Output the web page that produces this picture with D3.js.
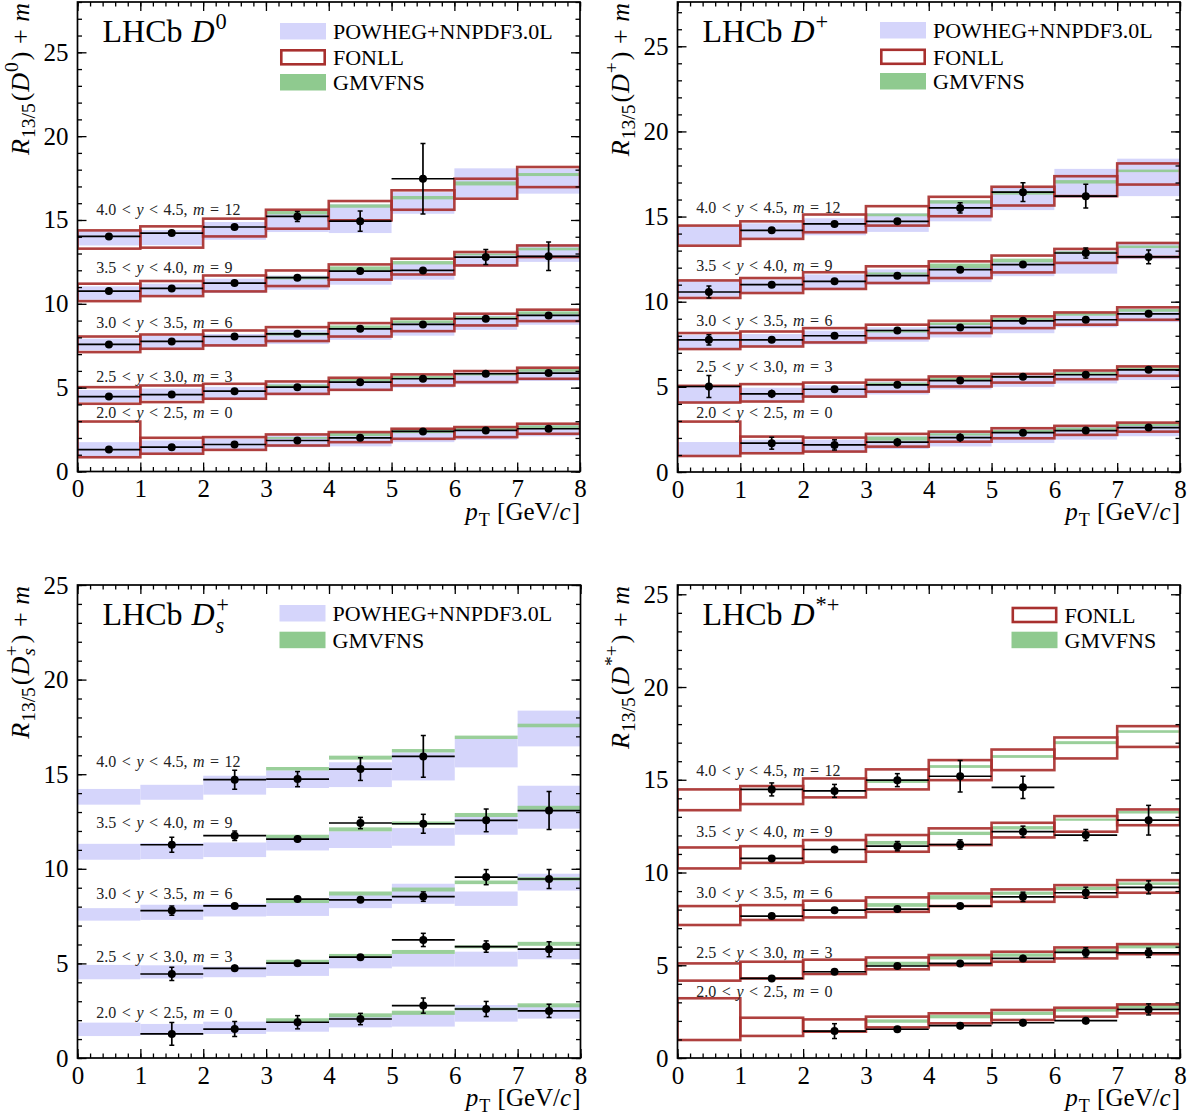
<!DOCTYPE html>
<html><head><meta charset="utf-8">
<script src="https://cdn.jsdelivr.net/npm/d3@7"></script>
<style>body{margin:0;background:#fff}svg{display:block}</style>
</head><body>
<svg id="c" width="1199" height="1117"></svg>
<script>
// ---------------- DATA (values are R_{13/5}; the offset m is added when drawing) ----------------
const ptEdges = [0,1,2,3,4,5,6,7,8];
const offsets = [0,3,6,9,12];
const rapLo = ["2.0","2.5","3.0","3.5","4.0"];
const rapHi = ["2.5","3.0","3.5","4.0","4.5"];
const xTicks = [0,1,2,3,4,5,6,7,8];
const yTicks = [0,5,10,15,20,25];

// D0
const D0_val = [
 [1.31,1.45,1.61,1.85,2.01,2.39,2.45,2.55],
 [1.47,1.59,1.79,2.03,2.33,2.53,2.83,2.87],
 [1.58,1.76,2.05,2.21,2.51,2.77,3.11,3.31],
 [1.76,1.92,2.24,2.56,2.95,2.99,3.79,3.83],
 [2.02,2.22,2.58,3.21,2.93,5.46,null,null]];
const D0_err = [
 [0.1,0.1,0.1,0.1,0.12,0.12,0.15,0.15],
 [0.08,0.08,0.1,0.1,0.12,0.12,0.12,0.15],
 [0.08,0.08,0.1,0.1,0.12,0.12,0.2,0.2],
 [0.1,0.1,0.1,0.12,0.12,0.15,0.45,0.85],
 [0.1,0.1,0.12,0.3,0.6,2.1,null,null]];
const D0_powLo = [
 [0.89,1.05,1.25,1.45,1.5,1.75,1.9,2.1],
 [1.13,1.25,1.35,1.55,1.8,2.0,2.2,2.4],
 [1.22,1.35,1.45,1.6,1.85,2.1,2.45,2.75],
 [1.24,1.5,1.65,1.84,2.14,2.44,3.2,3.5],
 [1.48,1.5,1.82,2.28,2.22,3.37,4.35,4.57]];
const D0_powHi = [
 [1.75,1.85,1.95,2.15,2.3,2.5,2.6,2.8],
 [1.86,1.95,2.05,2.25,2.5,2.7,2.9,3.1],
 [1.92,2.1,2.2,2.45,2.65,2.95,3.3,3.5],
 [2.04,2.2,2.5,2.69,3.1,3.4,4.0,4.55],
 [2.34,2.4,2.88,3.37,3.93,4.66,6.08,6.06]];
const D0_fonLo = [
 [0.85,1.06,1.29,1.55,1.75,1.95,2.05,2.25],
 [1.04,1.14,1.34,1.63,1.87,2.13,2.33,2.53],
 [1.12,1.32,1.52,1.78,2.05,2.37,2.71,2.97],
 [1.16,1.46,1.74,2.06,2.44,2.75,3.29,3.79],
 [1.29,1.35,2.02,2.48,2.98,3.61,4.27,4.96]];
const D0_fonHi = [
 [2.98,2.01,2.05,2.21,2.35,2.55,2.65,2.85],
 [2.03,2.13,2.23,2.37,2.59,2.79,2.99,3.19],
 [2.05,2.17,2.41,2.61,2.85,3.11,3.41,3.65],
 [2.2,2.36,2.69,2.99,3.35,3.69,4.09,4.48],
 [2.38,2.62,3.08,3.61,4.13,4.77,5.46,6.16]];
const D0_gmLo = [
 [null,null,null,1.95,2.11,2.29,2.45,2.59],
 [null,null,null,2.03,2.37,2.53,2.73,2.95],
 [null,null,null,2.11,2.51,2.85,3.1,3.37],
 [null,null,null,2.46,2.95,3.35,3.89,4.19],
 [null,null,null,3.33,3.73,4.23,5.06,5.62]];
const D0_gmHi = [
 [null,null,null,2.05,2.29,2.49,2.59,2.75],
 [null,null,null,2.19,2.53,2.69,2.87,3.11],
 [null,null,null,2.29,2.71,3.01,3.25,3.55],
 [null,null,null,2.63,3.23,3.55,3.99,4.35],
 [null,null,null,3.53,3.93,4.43,5.3,5.8]];

// D+
const DP_val = [
 [null,1.69,1.59,1.75,2.02,2.31,2.43,2.61],
 [2.02,1.59,1.86,2.12,2.37,2.59,2.71,3.0],
 [1.76,1.76,2.0,2.31,2.49,2.88,2.94,3.29],
 [1.57,2.0,2.2,2.53,2.88,3.18,3.86,3.63],
 [null,2.19,2.57,2.72,3.51,4.43,4.2,null]];
const DP_err = [
 [null,0.35,0.3,0.25,0.25,0.15,0.15,0.15],
 [0.65,0.25,0.12,0.12,0.12,0.12,0.15,0.15],
 [0.3,0.12,0.12,0.12,0.15,0.12,0.15,0.2],
 [0.35,0.12,0.12,0.12,0.15,0.2,0.3,0.4],
 [null,0.15,0.15,0.15,0.3,0.55,0.7,null]];
const DP_powLo = [
 [0.96,1.1,1.15,1.35,1.5,1.7,1.9,2.1],
 [1.1,1.2,1.35,1.55,1.85,2.0,2.2,2.4],
 [1.25,1.4,1.5,1.65,1.9,2.15,2.5,2.8],
 [1.3,1.55,1.75,2.0,2.15,2.5,2.65,3.5],
 [1.35,1.75,1.9,2.1,2.72,3.38,4.1,4.2]];
const DP_powHi = [
 [1.76,1.9,1.9,2.1,2.3,2.5,2.65,2.85],
 [2.0,1.95,2.1,2.3,2.5,2.7,2.9,3.1],
 [2.05,2.1,2.3,2.5,2.7,3.0,3.3,3.6],
 [2.2,2.3,2.6,2.9,3.1,3.4,4.0,4.5],
 [2.41,2.6,2.9,3.2,3.96,4.7,5.8,6.4]];
const DP_fonLo = [
 [0.94,1.1,1.2,1.49,1.78,1.98,2.18,2.37],
 [1.08,1.14,1.43,1.72,2.02,2.25,2.45,2.65],
 [1.22,1.37,1.61,1.86,2.16,2.45,2.65,2.94],
 [1.22,1.51,1.75,2.1,2.39,2.72,3.28,3.63],
 [1.29,1.69,2.08,2.47,3.02,3.65,4.2,4.88]];
const DP_fonHi = [
 [2.96,2.08,2.02,2.24,2.37,2.57,2.71,2.9],
 [2.06,2.16,2.25,2.41,2.61,2.76,2.96,3.2],
 [2.16,2.25,2.45,2.65,2.88,3.14,3.37,3.67],
 [2.25,2.39,2.73,3.08,3.37,3.71,4.1,4.45],
 [2.47,2.72,3.12,3.61,4.16,4.75,5.37,6.12]];
const DP_gmLo = [
 [null,null,null,1.84,2.14,2.31,2.47,2.7],
 [null,null,null,2.1,2.4,2.52,2.72,3.04],
 [null,null,null,2.19,2.63,2.9,3.18,3.41],
 [null,null,null,2.6,2.98,3.31,3.82,4.15],
 [null,null,null,3.02,3.76,4.29,4.94,5.61]];
const DP_gmHi = [
 [null,null,null,2.08,2.27,2.47,2.61,2.86],
 [null,null,null,2.25,2.55,2.65,2.86,3.14],
 [null,null,null,2.35,2.78,3.05,3.33,3.57],
 [null,null,null,2.72,3.24,3.53,3.96,4.3],
 [null,null,null,3.18,3.96,4.49,5.14,5.76]];

// Ds+
const DS_val = [
 [null,1.27,1.53,1.89,2.06,2.77,2.59,2.49],
 [null,1.44,1.74,2.01,2.33,3.24,2.89,2.75],
 [null,1.79,2.04,2.4,2.36,2.53,3.56,3.46],
 [null,2.27,2.75,2.57,3.42,3.38,3.56,4.08],
 [null,null,2.71,2.74,3.27,3.94,null,null]];
const DS_err = [
 [null,0.6,0.4,0.35,0.3,0.4,0.4,0.35],
 [null,0.35,0.2,0.15,0.15,0.35,0.3,0.4],
 [null,0.25,0.12,0.12,0.15,0.25,0.4,0.5],
 [null,0.4,0.25,0.2,0.3,0.5,0.6,1.0],
 [null,null,0.5,0.4,0.6,1.1,null,null]];
const DS_powLo = [
 [1.16,1.22,1.27,1.39,1.62,1.66,1.92,2.08],
 [1.16,1.2,1.27,1.34,1.74,1.83,1.83,2.22],
 [1.26,1.3,1.48,1.51,1.92,2.15,2.04,2.85],
 [1.48,1.51,1.62,1.97,2.1,2.22,2.8,3.12],
 [1.39,1.65,1.92,2.27,2.32,2.67,3.36,4.47]];
const DS_powHi = [
 [1.87,1.8,1.92,1.97,2.19,2.4,2.8,2.8],
 [1.92,1.9,1.83,2.01,2.36,2.5,2.62,2.75],
 [1.92,2.1,2.15,2.32,2.62,3.21,2.8,3.74],
 [2.32,2.36,2.39,2.71,2.98,3.15,3.77,5.39],
 [2.22,2.44,2.92,3.2,3.63,4.15,4.86,6.36]];
const DS_gmLo = [
 [null,null,null,1.89,2.15,2.28,2.52,2.68],
 [null,null,null,2.01,2.33,2.5,2.8,2.93],
 [null,null,null,2.19,2.59,2.8,3.19,3.38],
 [null,null,null,2.6,2.98,3.33,3.74,4.12],
 [null,null,null,3.2,3.77,4.15,4.86,5.48]];
const DS_gmHi = [
 [null,null,null,2.1,2.36,2.5,2.66,2.89],
 [null,null,null,2.19,2.5,2.71,2.95,3.14],
 [null,null,null,2.4,2.8,3.01,3.38,3.56],
 [null,null,null,2.8,3.19,3.5,3.95,4.33],
 [null,null,null,3.38,3.98,4.33,5.04,5.67]];

// D*+
const DST_val = [
 [null,null,1.45,1.55,1.74,1.9,2.01,2.62],
 [null,1.29,1.65,1.96,2.1,2.37,2.69,2.67],
 [null,1.65,1.97,2.03,2.19,2.69,2.91,3.2],
 [null,1.76,2.24,2.42,2.51,3.2,3.02,3.82],
 [null,2.48,2.4,2.98,3.19,2.59,null,null]];
const DST_err = [
 [null,null,0.4,0.15,0.2,0.2,0.2,0.3],
 [null,0.1,0.15,0.15,0.15,0.2,0.25,0.25],
 [null,0.12,0.12,0.12,0.15,0.25,0.3,0.35],
 [null,0.15,0.2,0.25,0.25,0.3,0.3,0.8],
 [null,0.35,0.35,0.35,0.85,0.6,null,null]];
const DST_fonLo = [
 [0.97,1.19,1.42,1.65,1.87,2.05,2.23,2.41],
 [1.17,1.29,1.53,1.78,2.01,2.19,2.37,2.6],
 [1.17,1.44,1.58,1.88,2.19,2.42,2.69,2.91],
 [1.22,1.52,1.58,2.12,2.48,2.89,3.2,3.55],
 [1.36,1.69,2.05,2.48,2.98,3.52,4.15,4.77]];
const DST_fonHi = [
 [3.22,2.17,2.08,2.23,2.41,2.59,2.71,2.89],
 [2.1,2.19,2.3,2.42,2.55,2.73,2.96,3.14],
 [2.19,2.24,2.48,2.66,2.87,3.09,3.32,3.59],
 [2.35,2.42,2.75,3.02,3.38,3.68,4.04,4.4],
 [2.48,2.66,3.07,3.56,4.06,4.63,5.28,5.89]];
const DST_gmLo = [
 [null,null,null,1.9,2.14,2.32,2.5,2.68],
 [null,null,null,1.97,2.31,2.46,2.69,2.91],
 [null,null,null,2.15,2.55,2.8,3.05,3.33],
 [null,null,null,2.5,3.02,3.32,3.79,4.18],
 [null,null,null,2.83,3.64,4.18,4.92,5.53]];
const DST_gmHi = [
 [null,null,null,2.08,2.32,2.5,2.64,2.86],
 [null,null,null,2.19,2.49,2.64,2.87,3.09],
 [null,null,null,2.35,2.78,2.97,3.23,3.47],
 [null,null,null,2.7,3.2,3.5,3.91,4.32],
 [null,null,null,2.98,3.79,4.33,5.08,5.67]];

// ---------------- STYLE / LAYOUT ----------------
const FONT = "'Liberation Serif','Times New Roman',serif";
const C_POW = "#d5d5fb", C_FON = "#a8302e", C_GM = "#8fca8f";

const panels = [
 {name:[{t:"D",it:1,dx:1},{t:"0",sup:1,dx:1}], x0:77.5, x1:580, yTop:2, yBot:471.5, ymax:28,
  val:D0_val, err:D0_err, pow:[D0_powLo,D0_powHi], fon:[D0_fonLo,D0_fonHi], gm:[D0_gmLo,D0_gmHi],
  legend:["POW","FON","GM"], legX:202.5, legY:[21,47,72], labY:[3.17,5.35,8.57,11.85,15.3]},
 {name:[{t:"D",it:1,dx:1},{t:"+",sup:1,dx:1}], x0:677.5, x1:1180, yTop:2, yBot:472, ymax:27.6,
  val:DP_val, err:DP_err, pow:[DP_powLo,DP_powHi], fon:[DP_fonLo,DP_fonHi], gm:[DP_gmLo,DP_gmHi],
  legend:["POW","FON","GM"], legX:202.5, legY:[20,46.5,71], labY:[3.15,5.87,8.57,11.82,15.23]},
 {name:[{t:"D",it:1,dx:1},{t:"s",sub:1,it:1,dx:1},{t:"+",sup:1,dx:-8}], x0:77.5, x1:580.5, yTop:585, yBot:1058, ymax:25,
  val:DS_val, err:DS_err, pow:[DS_powLo,DS_powHi], fon:null, gm:[DS_gmLo,DS_gmHi],
  legend:["POW","GM"], legX:202, legY:[20,46.7], labY:[2.1,5.09,8.39,12.14,15.4]},
 {name:[{t:"D",it:1,dx:1},{t:"*+",sup:1,dx:1}], x0:677.5, x1:1180, yTop:585, yBot:1058, ymax:25.5,
  val:DST_val, err:DST_err, pow:null, fon:[DST_fonLo,DST_fonHi], gm:[DST_gmLo,DST_gmHi],
  legend:["FON","GM"], legX:334, legY:[21.7,46.7], labY:[3.3,5.41,8.61,11.93,15.2]}
];
const legendText = {POW:"POWHEG+NNPDF3.0L", FON:"FONLL", GM:"GMVFNS"};

function rich(textSel, segs, size, subScale){
  const sc = subScale || 0.7;
  let shift = 0;
  segs.forEach(s=>{
    const target = s.sub ? 0.25*size : s.sup ? -0.42*size : 0;
    const ts = textSel.append("tspan").text(s.t)
      .attr("dy", (target - shift).toFixed(2))
      .style("font-size", ((s.sub||s.sup) ? sc*size : size) + "px")
      .style("font-style", s.it ? "italic" : "normal");
    if (s.dx) ts.attr("dx", s.dx);
    shift = target;
  });
}

const svg = d3.select("#c");

panels.forEach((P, pi)=>{
  const xs = d3.scaleLinear().domain([0,8]).range([P.x0, P.x1]);
  const ys = d3.scaleLinear().domain([0,P.ymax]).range([P.yBot, P.yTop]);
  const g = svg.append("g");
  const clipId = "clip"+pi;
  g.append("clipPath").attr("id", clipId).append("rect")
    .attr("x", P.x0).attr("y", P.yTop).attr("width", P.x1-P.x0).attr("height", P.yBot-P.yTop);
  const plot = g.append("g").attr("clip-path", `url(#${clipId})`);

  const bins = d3.range(8);
  // POWHEG bands
  if (P.pow) offsets.forEach((m, r)=>{
    plot.selectAll(null).data(bins.filter(i=>P.pow[0][r][i]!=null)).enter().append("rect")
      .attr("x", i=>xs(ptEdges[i])).attr("width", i=>xs(ptEdges[i+1])-xs(ptEdges[i]))
      .attr("y", i=>ys(P.pow[1][r][i]+m)).attr("height", i=>ys(P.pow[0][r][i]+m)-ys(P.pow[1][r][i]+m))
      .attr("fill", C_POW);
  });
  // GMVFNS bands
  offsets.forEach((m, r)=>{
    plot.selectAll(null).data(bins.filter(i=>P.gm[0][r][i]!=null)).enter().append("rect")
      .attr("x", i=>xs(ptEdges[i])).attr("width", i=>xs(ptEdges[i+1])-xs(ptEdges[i]))
      .attr("y", i=>ys(P.gm[1][r][i]+m)).attr("height", i=>ys(P.gm[0][r][i]+m)-ys(P.gm[1][r][i]+m))
      .attr("fill", C_GM).attr("opacity", 0.9);
  });
  // FONLL boxes
  if (P.fon) offsets.forEach((m, r)=>{
    plot.selectAll(null).data(bins.filter(i=>P.fon[0][r][i]!=null)).enter().append("rect")
      .attr("x", i=>xs(ptEdges[i])).attr("width", i=>xs(ptEdges[i+1])-xs(ptEdges[i]))
      .attr("y", i=>ys(P.fon[1][r][i]+m)).attr("height", i=>ys(P.fon[0][r][i]+m)-ys(P.fon[1][r][i]+m))
      .attr("fill", "none").attr("stroke", C_FON).attr("stroke-width", 2.6).attr("stroke-opacity", 0.92);
  });
  // Data
  offsets.forEach((m, r)=>{
    const idx = bins.filter(i=>P.val[r][i]!=null);
    const dg = plot.append("g");
    const xc = i=>xs((ptEdges[i]+ptEdges[i+1])/2);
    dg.selectAll(null).data(idx).enter().append("line")
      .attr("x1", i=>xs(ptEdges[i])).attr("x2", i=>xs(ptEdges[i+1]))
      .attr("y1", i=>ys(P.val[r][i]+m)).attr("y2", i=>ys(P.val[r][i]+m))
      .attr("stroke", "#000").attr("stroke-width", 1.7);
    dg.selectAll(null).data(idx).enter().append("line")
      .attr("x1", xc).attr("x2", xc)
      .attr("y1", i=>ys(P.val[r][i]+m-P.err[r][i])).attr("y2", i=>ys(P.val[r][i]+m+P.err[r][i]))
      .attr("stroke", "#000").attr("stroke-width", 1.7);
    [1,-1].forEach(sgn=>{
      dg.selectAll(null).data(idx.filter(i=>ys(0)-ys(P.err[r][i])>4.5)).enter().append("line")
        .attr("x1", i=>xc(i)-2.5).attr("x2", i=>xc(i)+2.5)
        .attr("y1", i=>ys(P.val[r][i]+m+sgn*P.err[r][i]))
        .attr("y2", i=>ys(P.val[r][i]+m+sgn*P.err[r][i]))
        .attr("stroke", "#000").attr("stroke-width", 1.5);
    });
    dg.selectAll(null).data(idx).enter().append("circle")
      .attr("cx", xc).attr("cy", i=>ys(P.val[r][i]+m))
      .attr("r", 4).attr("fill", "#000");
  });

  // Rapidity labels
  offsets.forEach((m, r)=>{
    const t = g.append("text").attr("x", xs(0.3)).attr("y", ys(P.labY[r]))
      .style("font-family", FONT).style("font-size","16px").attr("fill","#222").style("word-spacing","1.5px");
    rich(t, [{t:rapLo[r]+" < "},{t:"y",it:1},{t:" < "+rapHi[r]+", "},{t:"m",it:1},{t:" = "+m}], 16);
  });

  // Axes
  const minorX = d3.range(0, 8.0001, 0.2).map(v=>+v.toFixed(1));
  const minorY = d3.range(0, Math.floor(P.ymax)+0.001, 1);
  const styleAxis = sel=>{ sel.select(".domain").remove(); sel.selectAll("line").attr("stroke","#000").attr("stroke-width",1.3);
    sel.selectAll("text").style("font-family",FONT).style("font-size","25px").attr("fill","#000"); };
  g.append("g").attr("transform",`translate(0,${P.yBot})`)
    .call(d3.axisBottom(xs).tickValues(minorX).tickSize(-4.5).tickFormat("")).call(styleAxis);
  g.append("g").attr("transform",`translate(0,${P.yBot})`)
    .call(d3.axisBottom(xs).tickValues(xTicks).tickSize(-9).tickPadding(8).tickFormat(d3.format("d"))).call(styleAxis);
  g.append("g").attr("transform",`translate(0,${P.yTop})`)
    .call(d3.axisTop(xs).tickValues(minorX).tickSize(-4.5).tickFormat("")).call(styleAxis);
  g.append("g").attr("transform",`translate(0,${P.yTop})`)
    .call(d3.axisTop(xs).tickValues(xTicks).tickSize(-9).tickFormat("")).call(styleAxis);
  g.append("g").attr("transform",`translate(${P.x0},0)`)
    .call(d3.axisLeft(ys).tickValues(minorY).tickSize(-4.5).tickFormat("")).call(styleAxis);
  g.append("g").attr("transform",`translate(${P.x0},0)`)
    .call(d3.axisLeft(ys).tickValues(yTicks).tickSize(-9).tickPadding(9).tickFormat(d3.format("d"))).call(styleAxis);
  g.append("g").attr("transform",`translate(${P.x1},0)`)
    .call(d3.axisRight(ys).tickValues(minorY).tickSize(-4.5).tickFormat("")).call(styleAxis);
  g.append("g").attr("transform",`translate(${P.x1},0)`)
    .call(d3.axisRight(ys).tickValues(yTicks).tickSize(-9).tickFormat("")).call(styleAxis);
  g.append("rect").attr("x",P.x0).attr("y",P.yTop).attr("width",P.x1-P.x0).attr("height",P.yBot-P.yTop)
    .attr("fill","none").attr("stroke","#000").attr("stroke-width",1.7);

  // X title
  const xt = g.append("text").attr("x", P.x1).attr("y", P.yBot+48).attr("text-anchor","end")
    .style("font-family",FONT).style("font-size","25px");
  rich(xt, [{t:"p",it:1},{t:"T",sub:1,dx:1},{t:" [GeV/",dx:1},{t:"c",it:1},{t:"]",dx:1}], 25, 0.72);

  // Y title
  const yt = g.append("text").attr("transform",`translate(${P.x0-49},${P.yTop+1}) rotate(-90)`)
    .attr("text-anchor","end").style("font-family",FONT).style("font-size","26px");
  rich(yt, [{t:"R",it:1},{t:"13/5",sub:1,dx:1},{t:"(",dx:2}].concat(P.name).concat([{t:")",dx:2},{t:" + ",dx:1},{t:"m",it:1,dx:1}]), 26, 0.75);

  // Title
  const tt = g.append("text").attr("x", P.x0+25).attr("y", P.yTop+40)
    .style("font-family",FONT).style("font-size","32px");
  rich(tt, [{t:"LHCb "}].concat(P.name), 32);

  // Legend
  P.legend.forEach((k, j)=>{
    const lx = P.x0 + P.legX, ly = P.yTop + P.legY[j];
    if (k=="POW") g.append("rect").attr("x",lx).attr("y",ly).attr("width",46).attr("height",16.5).attr("fill",C_POW);
    if (k=="GM") g.append("rect").attr("x",lx).attr("y",ly).attr("width",46).attr("height",16.5).attr("fill",C_GM);
    if (k=="FON") g.append("rect").attr("x",lx+1.3).attr("y",ly+1.3).attr("width",43.4).attr("height",14)
      .attr("fill","none").attr("stroke",C_FON).attr("stroke-width",2.6);
    g.append("text").attr("x", lx+53).attr("y", ly+16.3).text(legendText[k])
      .style("font-family",FONT).style("font-size","22px");
  });
});
</script>
</body></html>
